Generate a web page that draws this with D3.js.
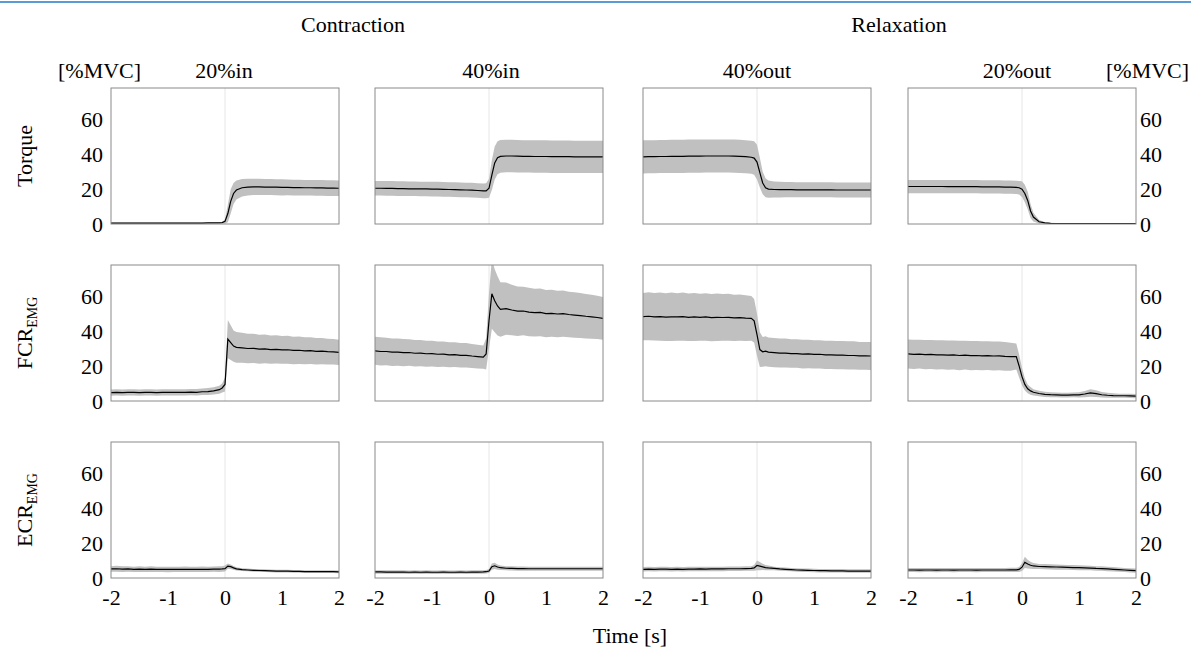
<!DOCTYPE html>
<html><head><meta charset="utf-8">
<script src="https://cdn.jsdelivr.net/npm/d3@7"></script>
<style>
body{margin:0;background:#fff}
text{font-family:"Liberation Serif","Times New Roman",serif;fill:#000}
</style>
</head><body>
<svg id="c" width="1191" height="648"></svg>
<script>
// ---------------- DATA ----------------
const times = [-2.0,-1.9,-1.8,-1.7,-1.6,-1.5,-1.4,-1.3,-1.2,-1.1,-1.0,-0.9,-0.8,-0.7,-0.6,-0.5,-0.4,-0.3,-0.2,-0.1,
  -0.05,0,0.05,0.1,0.15,0.2,
  0.3,0.4,0.5,0.6,0.7,0.8,0.9,1.0,1.1,1.2,1.3,1.4,1.5,1.6,1.7,1.8,1.9,2.0];

const groupNames = ["Contraction","Relaxation"];
const conditionNames = ["20%in","40%in","40%out","20%out"];
const rowNames = ["Torque","FCR","ECR"];
const rowSubs = ["","EMG","EMG"];
const yTicks = [0,20,40,60];
const xTicks = [-2,-1,0,1,2];
const unitLabel = "[%MVC]";
const xTitle = "Time [s]";

// Torque
const torque20inMean = [0.5,0.5,0.5,0.5,0.5,0.5,0.5,0.5,0.5,0.5,0.5,0.5,0.5,0.5,0.5,0.5,0.5,0.6,0.6,0.7,
  0.8,1.5,6,13,17.5,19.5,
  20.8,21.2,21.3,21.3,21.2,21.2,21.1,21.0,21.0,20.9,20.9,20.8,20.8,20.7,20.7,20.6,20.6,20.5];
const torque20inSd = [0.3,0.3,0.3,0.3,0.3,0.3,0.3,0.3,0.3,0.3,0.3,0.3,0.3,0.3,0.3,0.3,0.3,0.3,0.3,0.3,
  0.4,1.2,5,7,6,5.5,
  5,4.8,4.7,4.7,4.6,4.6,4.6,4.6,4.5,4.5,4.5,4.5,4.5,4.5,4.5,4.5,4.5,4.5];
const torque40inMean = [20.5,20.5,20.4,20.4,20.3,20.3,20.2,20.2,20.1,20.1,20.0,20.0,19.9,19.8,19.7,19.6,19.5,19.4,19.2,19.0,
  19.0,20.5,28,35,38,38.8,
  39.0,39.0,38.9,38.8,38.8,38.7,38.7,38.7,38.6,38.6,38.6,38.6,38.5,38.5,38.5,38.5,38.5,38.5];
const torque40inSd = [4.2,4.2,4.2,4.2,4.2,4.2,4.2,4.2,4.2,4.2,4.2,4.2,4.2,4.2,4.2,4.2,4.2,4.2,4.2,4.2,
  4.3,5.5,8.5,9.5,9.5,9.4,
  9.3,9.3,9.3,9.3,9.3,9.3,9.3,9.3,9.3,9.3,9.3,9.3,9.3,9.3,9.3,9.3,9.3,9.3];
const torque40outMean = [38.5,38.6,38.6,38.7,38.7,38.8,38.8,38.8,38.9,38.9,38.9,39.0,39.0,39.0,39.0,39.0,38.9,38.8,38.6,38.3,
  37.8,35.5,29.5,23.5,20.8,20.0,
  19.8,19.7,19.7,19.7,19.6,19.6,19.6,19.6,19.6,19.6,19.6,19.5,19.5,19.5,19.5,19.5,19.5,19.5];
const torque40outSd = [9.5,9.5,9.5,9.5,9.5,9.5,9.5,9.5,9.5,9.5,9.5,9.5,9.5,9.5,9.5,9.5,9.5,9.5,9.5,9.5,
  9.6,10,8.5,6.5,5.5,5,
  4.6,4.5,4.4,4.4,4.3,4.3,4.3,4.3,4.3,4.3,4.3,4.3,4.3,4.3,4.3,4.3,4.3,4.3];
const torque20outMean = [21.5,21.5,21.5,21.5,21.5,21.5,21.5,21.4,21.4,21.4,21.4,21.4,21.4,21.3,21.3,21.3,21.3,21.2,21.1,21.0,
  20.8,20.0,17.5,13.5,7.5,4.0,
  1.3,0.6,0.4,0.3,0.3,0.3,0.3,0.3,0.3,0.3,0.3,0.3,0.3,0.3,0.3,0.3,0.3,0.3];
const torque20outSd = [3.8,3.8,3.8,3.8,3.8,3.8,3.8,3.8,3.8,3.8,3.8,3.8,3.8,3.8,3.8,3.8,3.8,3.8,3.8,3.8,
  3.9,4.5,5,5,4,2.5,
  1.0,0.5,0.3,0.3,0.3,0.3,0.3,0.3,0.3,0.3,0.3,0.3,0.3,0.3,0.3,0.3,0.3,0.3];

// FCR EMG
const fcr20inMean = [4.8,5.0,4.8,4.9,5.0,4.8,4.9,5.0,4.8,4.9,5.0,4.9,5.0,4.9,5.1,5.0,5.3,5.4,5.8,6.5,
  7.5,9.5,35.5,33.5,31.5,30.8,
  30.5,30.1,30.2,29.7,29.9,29.5,29.6,29.3,29.4,29.0,29.1,28.8,28.9,28.5,28.6,28.3,28.2,27.9];
const fcr20inSd = [1.8,1.8,1.8,1.8,1.8,1.8,1.8,1.8,1.8,1.8,1.8,1.8,1.8,1.8,1.8,1.9,1.9,2.0,2.1,2.3,
  2.6,4,11,10,9,8.8,
  8.6,8.4,8.4,8.3,8.3,8.1,8.1,8.0,8.0,7.9,7.9,7.7,7.7,7.6,7.5,7.4,7.3,7.2];
const fcr40inMean = [28.8,28.4,28.4,28.0,28.0,27.7,27.8,27.4,27.5,27.1,27.2,26.8,26.9,26.5,26.6,26.2,26.2,25.8,25.5,25.2,
  27,46,61.5,57.5,54.5,52.5,
  53.0,52.2,51.5,51.6,51.0,50.7,50.8,50.1,50.3,49.9,50.1,49.6,49.3,49.0,48.6,48.3,47.9,47.4];
const fcr40inSd = [8.0,8.1,7.9,7.9,7.8,7.8,7.6,7.6,7.5,7.5,7.4,7.3,7.2,7.2,7.1,7.0,7.0,6.9,6.8,6.7,
  9,16,20,18,17,15.6,
  15.0,14.5,14.2,13.9,13.9,13.7,13.7,13.5,13.5,13.3,13.3,13.1,13.0,12.9,12.8,12.6,12.4,12.2];
const fcr40outMean = [48.4,48.6,48.3,48.4,48.1,48.3,48.2,48.4,48.0,48.2,48.0,48.2,47.8,48.0,47.9,48.0,47.7,47.8,47.5,47.4,
  46.0,38.0,29.5,28.2,28.6,28.0,
  27.8,27.5,27.5,27.2,27.2,26.9,27.0,26.7,26.8,26.5,26.5,26.3,26.3,26.1,26.1,25.9,25.9,25.8];
const fcr40outSd = [13.5,13.8,13.6,13.8,13.7,13.9,13.6,13.8,13.6,13.8,13.5,13.6,13.5,13.6,13.4,13.5,13.3,13.3,13.1,12.8,
  12.5,12,10,8.5,8.6,8.4,
  8.4,8.3,8.3,8.2,8.2,8.2,8.2,8.1,8.1,8.1,8.1,8.1,8.1,8.1,8.1,8.0,8.0,8.0];
const fcr20outMean = [27.0,26.7,26.9,26.6,26.7,26.4,26.5,26.3,26.4,26.1,26.3,26.0,26.1,25.9,26.0,25.8,25.9,25.6,25.4,25.5,
  20.0,14.0,9.5,7.0,5.8,5.0,
  4.3,3.8,3.6,3.5,3.4,3.4,3.5,3.5,4.0,4.6,4.2,3.6,3.3,3.1,3.0,3.0,2.9,2.8];
const fcr20outSd = [8.3,8.4,8.3,8.4,8.3,8.4,8.3,8.4,8.3,8.4,8.3,8.4,8.3,8.3,8.2,8.3,8.2,8.2,8.0,7.5,
  6.5,5,3.5,2.5,2.2,1.8,
  1.6,1.5,1.4,1.4,1.4,1.4,1.4,1.5,1.8,2.2,1.9,1.6,1.4,1.3,1.2,1.2,1.2,1.2];

// ECR EMG
const ecr20inMean = [5.2,5.3,5.1,5.2,5.0,5.1,5.0,5.1,4.9,5.0,4.9,5.0,4.9,5.0,4.9,5.0,5.0,5.0,5.1,5.1,
  5.2,5.4,6.8,6.5,5.8,5.2,
  4.8,4.6,4.4,4.3,4.2,4.1,4.0,3.9,3.9,3.8,3.8,3.7,3.7,3.7,3.6,3.6,3.6,3.5];
const ecr20inSd = [1.6,1.7,1.6,1.6,1.5,1.6,1.5,1.6,1.5,1.5,1.6,1.5,1.5,1.6,1.5,1.5,1.6,1.5,1.5,1.6,
  1.6,1.7,1.5,1.3,1.1,0.9,
  0.8,0.8,0.8,0.8,0.8,0.8,0.8,0.8,0.8,0.8,0.8,0.8,0.8,0.8,0.8,0.8,0.8,0.8];
const ecr40inMean = [3.5,3.5,3.4,3.4,3.4,3.4,3.3,3.4,3.3,3.4,3.3,3.3,3.4,3.3,3.3,3.4,3.3,3.4,3.4,3.5,
  3.6,4.0,6.5,7.0,6.3,5.9,
  5.6,5.5,5.4,5.4,5.3,5.3,5.3,5.3,5.3,5.3,5.3,5.3,5.3,5.3,5.3,5.3,5.3,5.3];
const ecr40inSd = [1.0,1.0,1.0,1.0,1.0,1.0,1.0,1.0,1.0,1.0,1.0,1.0,1.0,1.0,1.0,1.0,1.0,1.0,1.0,1.0,
  1.0,1.2,1.8,1.8,1.5,1.3,
  1.2,1.2,1.2,1.2,1.2,1.2,1.2,1.2,1.2,1.2,1.2,1.2,1.2,1.2,1.2,1.2,1.2,1.2];
const ecr40outMean = [5.0,5.1,5.0,5.1,5.1,5.0,5.1,5.0,5.1,5.1,5.2,5.1,5.2,5.2,5.2,5.3,5.3,5.3,5.4,5.5,
  5.8,7.2,6.8,6.4,6.0,5.8,
  5.5,5.2,5.0,4.8,4.6,4.5,4.4,4.3,4.2,4.2,4.1,4.1,4.1,4.0,4.0,4.0,4.0,4.0];
const ecr40outSd = [1.3,1.3,1.3,1.3,1.3,1.3,1.3,1.3,1.3,1.3,1.3,1.3,1.3,1.3,1.3,1.3,1.3,1.3,1.3,1.3,
  1.6,2.8,2.4,1.8,1.5,1.3,
  1.0,1.0,1.0,1.0,1.0,1.0,1.0,1.0,1.0,1.0,1.0,1.0,1.0,1.0,1.0,1.0,1.0,1.0];
const ecr20outMean = [4.6,4.6,4.5,4.6,4.6,4.5,4.6,4.6,4.5,4.6,4.6,4.6,4.5,4.6,4.6,4.6,4.6,4.6,4.7,4.7,
  4.9,6.2,9.0,8.0,7.3,6.9,
  6.6,6.5,6.4,6.3,6.2,6.1,6.0,5.9,5.8,5.7,5.5,5.4,5.2,5.0,4.8,4.6,4.4,4.2];
const ecr20outSd = [1.2,1.2,1.2,1.2,1.2,1.2,1.2,1.2,1.2,1.2,1.2,1.2,1.2,1.2,1.2,1.2,1.2,1.2,1.2,1.2,
  1.4,2.2,3.2,2.5,2.0,1.7,
  1.5,1.5,1.5,1.5,1.4,1.4,1.4,1.4,1.4,1.3,1.3,1.3,1.3,1.3,1.2,1.2,1.2,1.2];

// ---------------- LAYOUT ----------------
const panels = [
  [torque20inMean, torque20inSd],[torque40inMean, torque40inSd],[torque40outMean, torque40outSd],[torque20outMean, torque20outSd],
  [fcr20inMean, fcr20inSd],[fcr40inMean, fcr40inSd],[fcr40outMean, fcr40outSd],[fcr20outMean, fcr20outSd],
  [ecr20inMean, ecr20inSd],[ecr40inMean, ecr40inSd],[ecr40outMean, ecr40outSd],[ecr20outMean, ecr20outSd]
];

const colLeft = [111, 375, 643, 908];
const rowTop = [88, 265, 442];
const W = 228, H = 136;
const FS = 22;

const svg = d3.select("#c");
svg.append("rect").attr("width",1191).attr("height",648).attr("fill","#fff");
svg.append("line").attr("x1",0).attr("x2",1191).attr("y1",2).attr("y2",2)
  .attr("stroke","#5b9bd5").attr("stroke-width",2.2);

const x = d3.scaleLinear().domain([-2,2]).range([0,W]);
const y = d3.scaleLinear().domain([0,78]).range([H,0]);

const defs = svg.append("defs");
defs.append("clipPath").attr("id","pclip").append("rect").attr("width",W).attr("height",H);

panels.forEach((p,i)=>{
  const r = Math.floor(i/4), c = i%4;
  const [mean, sd] = p;
  const g = svg.append("g").attr("transform",`translate(${colLeft[c]},${rowTop[r]})`);
  const inner = g.append("g").attr("clip-path","url(#pclip)");
  inner.append("line").attr("x1",x(0)).attr("x2",x(0)).attr("y1",0).attr("y2",H)
    .attr("stroke","#e6e6e6").attr("stroke-width",1);
  const area = d3.area()
    .x((d,j)=>x(times[j]))
    .y0((d,j)=>y(Math.max(0, mean[j]-sd[j])))
    .y1((d,j)=>y(mean[j]+sd[j]));
  inner.append("path").datum(mean).attr("d",area).attr("fill","#c0c0c0");
  const line = d3.line().x((d,j)=>x(times[j])).y(d=>y(d));
  inner.append("path").datum(mean).attr("d",line).attr("fill","none")
    .attr("stroke","#000").attr("stroke-width",1.2);
  g.append("rect").attr("width",W).attr("height",H).attr("fill","none")
    .attr("stroke","#8a8a8a").attr("stroke-width",1);

  if (c===0) {
    const ax = g.append("g").call(d3.axisLeft(y).tickValues(yTicks).tickSize(0).tickPadding(8).tickFormat(d=>String(d)));
    ax.select(".domain").remove();
    ax.attr("font-family",null).attr("font-size",null);
    ax.selectAll("text").style("font-size",FS+"px");
  }
  if (c===3) {
    const ax = g.append("g").attr("transform",`translate(${W},0)`)
      .call(d3.axisRight(y).tickValues(yTicks).tickSize(0).tickPadding(4).tickFormat(d=>String(d)));
    ax.select(".domain").remove();
    ax.attr("font-family",null).attr("font-size",null);
    ax.selectAll("text").style("font-size",FS+"px");
  }
  if (r===2) {
    const ax = g.append("g").attr("transform",`translate(0,${H})`)
      .call(d3.axisBottom(x).tickValues(xTicks).tickSize(0).tickPadding(11).tickFormat(d=>String(d)));
    ax.select(".domain").remove();
    ax.attr("font-family",null).attr("font-size",null);
    ax.selectAll("text").style("font-size",FS+"px");
  }
});

// group headers
const groupX = [353, 899];
groupNames.forEach((n,i)=>{
  svg.append("text").attr("x",groupX[i]).attr("y",32).attr("text-anchor","middle")
    .style("font-size",FS+"px").text(n);
});
// condition titles
const condX = [224, 491, 757, 1017];
conditionNames.forEach((n,i)=>{
  svg.append("text").attr("x",condX[i]).attr("y",78).attr("text-anchor","middle")
    .style("font-size",FS+"px").text(n);
});
// unit labels
svg.append("text").attr("x",58).attr("y",78).style("font-size",FS+"px").text(unitLabel);
svg.append("text").attr("x",1106).attr("y",78).style("font-size",FS+"px").text(unitLabel);

// row labels
rowNames.forEach((n,i)=>{
  const cy = rowTop[i] + H/2;
  const t = svg.append("text").attr("transform",`translate(32,${cy}) rotate(-90)`)
    .attr("text-anchor","middle").style("font-size",FS+"px");
  t.append("tspan").text(n);
  if (rowSubs[i]) t.append("tspan").attr("dy",5).style("font-size","14px").text(rowSubs[i]);
});

// x title
svg.append("text").attr("x",630).attr("y",643).attr("text-anchor","middle")
  .style("font-size",FS+"px").text(xTitle);
</script>
</body></html>
